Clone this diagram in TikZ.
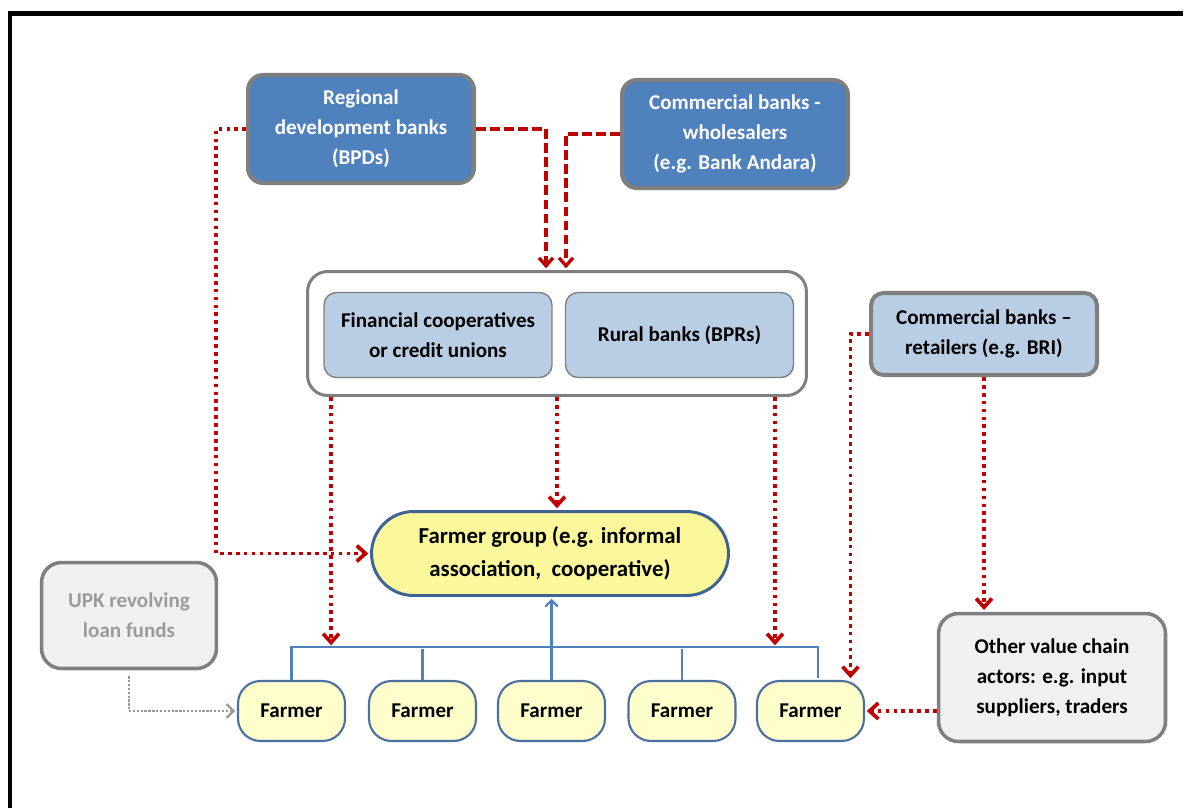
\documentclass[tikz,border=0pt]{standalone}
\usepackage{fontspec}
\setmainfont{Carlito}
\usepackage {tikz}
\usetikzlibrary {positioning,arrows.meta}
\definecolor {bankblue}{HTML}{4F81BD}
\definecolor {lightblue}{HTML}{B9CDE5}
\definecolor {boxgrey}{HTML}{7F7F7F}
\definecolor {palegrey}{HTML}{F0F0F0}
\definecolor {upkgrey}{HTML}{9A9A9A}
\definecolor {loanred}{HTML}{C00000}
\definecolor {groupyellow}{HTML}{FAF89A}
\definecolor {farmyellow}{HTML}{FFFFCC}
\definecolor {groupblue}{HTML}{3F6494}
\definecolor {farmblue}{HTML}{4A6FA0}

\begin{document}
\begin{tikzpicture}[x=0.02cm,y=-0.02cm,shorten >=1pt,font=\fontsize{12}{17}\selectfont\bfseries]
  \tikzstyle{bank}=[rectangle, rounded corners=0.3cm, fill=bankblue, draw=boxgrey, line width=2.3pt,
text=white, align=center, minimum width=4.52cm, minimum height=2.16cm]
  \tikzstyle{inst}=[rectangle, rounded corners=0.25cm, fill=lightblue, draw=boxgrey, line width=0.8pt,
align=center, minimum width=4.56cm, minimum height=1.7cm]
  \tikzstyle{other}=[rectangle, rounded corners=0.4cm, fill=palegrey, draw=boxgrey, line width=2pt,
align=center]
  \tikzstyle{farmer}=[rectangle, rounded corners=0.45cm, fill=farmyellow, draw=farmblue, line width=1.2pt,
minimum width=2.14cm, minimum height=1.2cm]
  \tikzstyle{loan}=[draw=loanred, line width=2.1pt, dash pattern=on 2.1pt off 2.4pt,
-{Straight Barb[length=5pt,width=9pt]}]
  \tikzstyle{wholesale}=[draw=loanred, line width=1.9pt, dash pattern=on 5.5pt off 2.5pt,
-{Straight Barb[length=4.5pt,width=8pt]}]
  \tikzstyle{fund}=[draw=boxgrey!80, line width=1.3pt, dash pattern=on 1.3pt off 0.9pt,
-{Straight Barb[length=4pt,width=8pt]}]
  \tikzstyle{tree}=[draw=bankblue, line width=1.3pt]

  \useasboundingbox (0,0) rectangle (1185,808);
  \draw[line width=2.3pt] (10,808) -- (10,13.5) -- (1185,13.5);

  \node[bank] (B_1) at (361,129) {Regional\\development banks\\(BPDs)};
  \node[bank] (B_2) at (735,134) {Commercial banks -\\wholesalers\\(e.g. Bank Andara)};
  \node[rectangle, rounded corners=0.4cm, fill=white, draw=boxgrey, line width=1.7pt,
minimum width=9.98cm, minimum height=2.48cm] (C_0) at (557,333.5) {};
  \node[inst] (C_1) at (438,335) {Financial cooperatives\\or credit unions};
  \node[inst] (C_2) at (679.5,335) {Rural banks (BPRs)};
  \node[inst, line width=2.3pt, minimum width=4.52cm, minimum height=1.64cm] (B_3) at (984,334)
{Commercial banks –\\retailers (e.g. BRI)};
  \node[rectangle, rounded corners=0.84cm, fill=groupyellow, draw=groupblue, line width=1.7pt,
align=center, minimum width=7.14cm, minimum height=1.68cm, font=\fontsize{13}{19}\selectfont\bfseries]
(G_0) at (550,553.5) {Farmer group (e.g. informal\\association, \ cooperative)};
  \node[other, text=upkgrey, minimum width=3.5cm, minimum height=2.12cm] (U_1) at (129,615.5)
{UPK revolving\\loan funds};
  \node[other, minimum width=4.54cm, minimum height=2.56cm] (O_1) at (1052,677.5)
{Other value chain\\actors: e.g. input\\suppliers, traders};
  \node[farmer] (F_1) at (291.5,711) {Farmer};
  \node[farmer] (F_2) at (422.5,711) {Farmer};
  \node[farmer] (F_3) at (551.5,711) {Farmer};
  \node[farmer] (F_4) at (682,711) {Farmer};
  \node[farmer] (F_5) at (810.5,711) {Farmer};
  \coordinate (T_0) at (551.5,647);

  \draw[tree] (F_1.north) |- (T_0) -| ([xshift=0.15cm]F_5.north);
  \draw[tree] (F_2.north) -- (F_2.north |- T_0);
  \draw[tree] (F_4.north) -- (F_4.north |- T_0);
  \draw[tree, -{Straight Barb[length=3.5pt,width=7pt]}] (F_3.north) -- (F_3.north |- G_0.south);

  \draw[loan] (B_1.west) -- ++(-30,0) |- (G_0.west);
  \draw[wholesale] (B_1.east) -| ([xshift=-0.22cm]C_0.north);
  \draw[wholesale] (B_2.west) -| ([xshift=0.18cm]C_0.north);
  \draw[loan] ([xshift=-4.52cm]C_0.south) -- ([xshift=-4.52cm]C_0.south |- T_0);
  \draw[loan] (C_0.south) -- (C_0.south |- G_0.north);
  \draw[loan] ([xshift=4.36cm]C_0.south) -- ([xshift=4.36cm]C_0.south |- T_0);
  \draw[loan] (B_3.west) -| ([xshift=0.8cm]F_5.north);
  \draw[loan] (B_3.south) -- (B_3.south |- O_1.north);
  \draw[loan] (O_1.west |- F_5.east) -- (F_5.east);
  \draw[fund] ([yshift=-0.12cm]U_1.south) |- (F_1.west);
\end{tikzpicture}
\end{document}
